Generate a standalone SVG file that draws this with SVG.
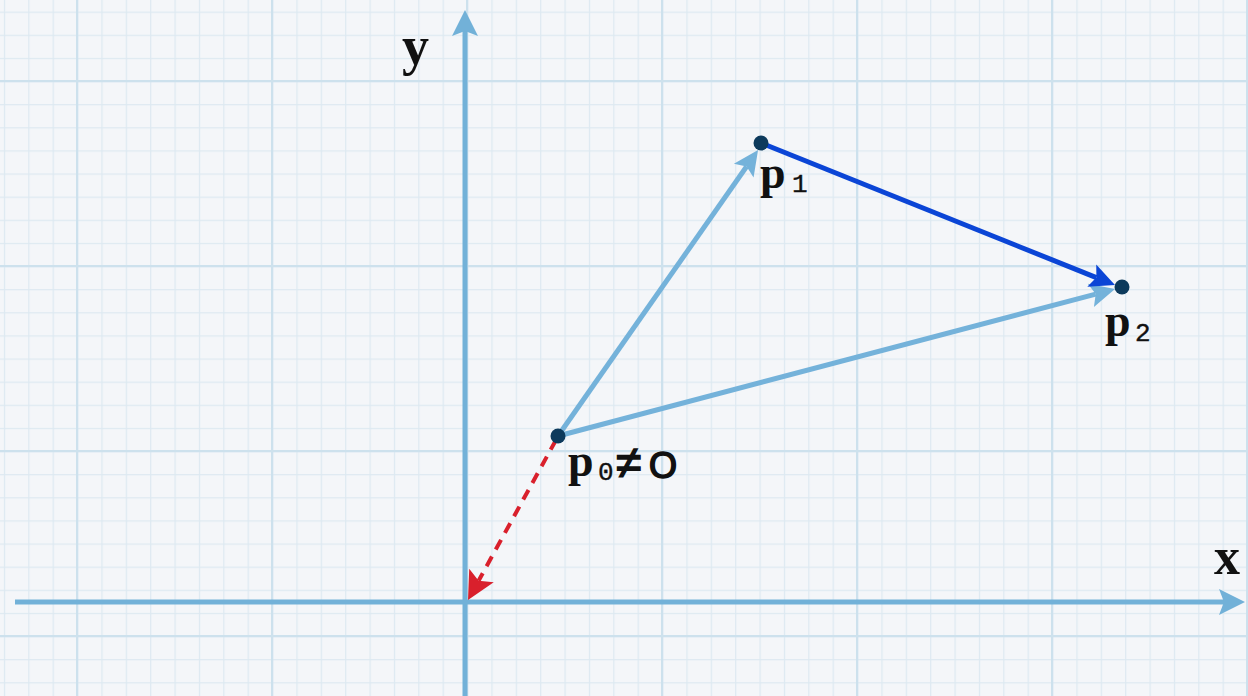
<svg xmlns="http://www.w3.org/2000/svg" width="1248" height="696" viewBox="0 0 1248 696">
<style>
.axis{stroke:#72b1d8;stroke-width:5;fill:none}
.vec{stroke:#74b2da;stroke-width:5;fill:none}
.vecd{stroke:#0b45d6;stroke-width:5;fill:none}
.red{stroke:#d9202c;stroke-width:4;fill:none;stroke-dasharray:11 8}
.dot{fill:#0d3a5c}
.lbl{font-family:"Liberation Serif","Times New Roman",serif;font-weight:bold;fill:#111}
.sub{font-family:"Liberation Mono","Courier New",monospace;font-weight:normal;fill:#111;stroke:#111;stroke-width:0.4}
.sym{font-family:"Liberation Sans",Arial,sans-serif;fill:#111;stroke:#111;stroke-width:1.6}
</style>
<defs>
<pattern id="minor" patternUnits="userSpaceOnUse" x="77" y="81" width="24.375" height="23.125">
<rect x="0" y="0" width="1.2" height="23.125" fill="#dde9f1"/>
<rect x="0" y="0" width="24.375" height="1.2" fill="#dde9f1"/>
</pattern>
<pattern id="major" patternUnits="userSpaceOnUse" x="76" y="80" width="195" height="185">
<rect x="0" y="0" width="2.2" height="185" fill="#cde1ed"/>
<rect x="0" y="0" width="195" height="2.2" fill="#cde1ed"/>
</pattern>
<marker id="ahAxis" markerUnits="userSpaceOnUse" viewBox="-10 -16 40 32" markerWidth="40" markerHeight="32" refX="0" refY="0" orient="auto">
<path d="M21,0 L-5,-13 L0,0 L-5,13 Z" fill="#72b1d8"/>
</marker>
<marker id="ahVec" markerUnits="userSpaceOnUse" viewBox="-10 -16 40 32" markerWidth="40" markerHeight="32" refX="0" refY="0" orient="auto">
<path d="M20,0 L-5,-12 L0,0 L-5,12 Z" fill="#74b2da"/>
</marker>
<marker id="ahDark" markerUnits="userSpaceOnUse" viewBox="-10 -16 40 32" markerWidth="40" markerHeight="32" refX="0" refY="0" orient="auto">
<path d="M20,0 L-5,-12 L0,0 L-5,12 Z" fill="#0b45d6"/>
</marker>
<marker id="ahRed" markerUnits="userSpaceOnUse" viewBox="-10 -18 44 36" markerWidth="44" markerHeight="36" refX="0" refY="0" orient="auto">
<path d="M22,0 L-6,-14 L0,0 L-6,14 Z" fill="#d9202c"/>
</marker>
</defs>
<rect width="1248" height="696" fill="#f4f6f9"/>
<rect width="1248" height="696" fill="url(#minor)"/>
<rect width="1248" height="696" fill="url(#major)"/>
<g id="axes">
<line class="axis" x1="465" y1="696" x2="465" y2="31" marker-end="url(#ahAxis)"/>
<line class="axis" x1="15" y1="602" x2="1224" y2="602" marker-end="url(#ahAxis)"/>
</g>
<g id="connectors">
<line class="vec" x1="558" y1="436" x2="746.6" y2="166.5" marker-end="url(#ahVec)"/>
<line class="vec" x1="558" y1="436" x2="1095.7" y2="294.1" marker-end="url(#ahVec)"/>
<line class="vecd" x1="761" y1="143" x2="1096.4" y2="277.6" marker-end="url(#ahDark)"/>
<line class="red" x1="556" y1="440" x2="478.6" y2="580.7" marker-end="url(#ahRed)"/>
</g>
<g id="p0">
<circle class="dot" cx="558" cy="436" r="7.5"/>
<text y="476"><tspan class="lbl" x="568" font-size="46">p</tspan><tspan class="sub" x="598" y="480" font-size="26">0</tspan><tspan class="sym" x="616" y="478" font-size="46">≠</tspan><tspan class="sym" x="649" y="478" font-size="36">O</tspan></text>
</g>
<g id="p1">
<circle class="dot" cx="761" cy="143" r="7.5"/>
<text y="188"><tspan class="lbl" x="760" font-size="46">p</tspan><tspan class="sub" x="792" y="192" font-size="26">1</tspan></text>
</g>
<g id="p2">
<circle class="dot" cx="1122" cy="287" r="7.5"/>
<text y="336"><tspan class="lbl" x="1105" font-size="46">p</tspan><tspan class="sub" x="1135" y="341" font-size="26">2</tspan></text>
</g>
<g id="ylabel"><text class="lbl" x="402" y="64" font-size="54">y</text></g>
<g id="xlabel"><text class="lbl" x="1214" y="574" font-size="52">x</text></g>
</svg>
